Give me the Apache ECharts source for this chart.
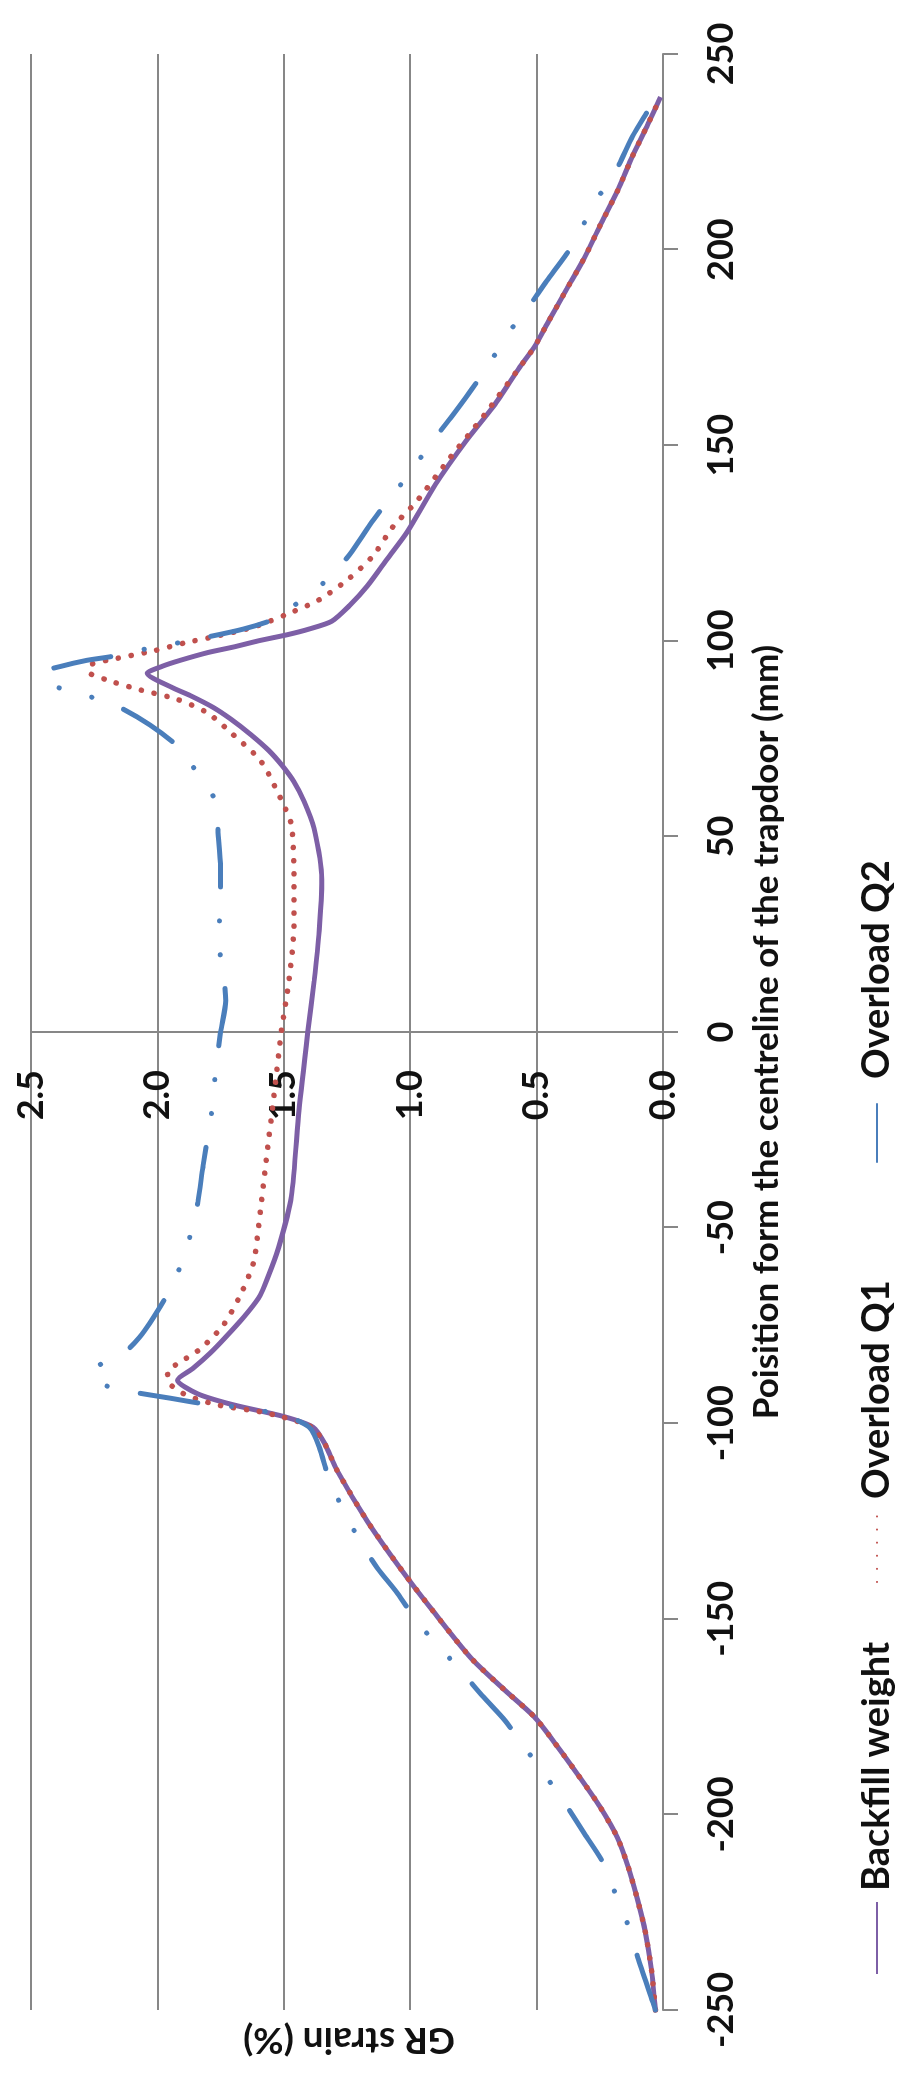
<!DOCTYPE html>
<html>
<head>
<meta charset="utf-8">
<script src="https://cdn.jsdelivr.net/npm/echarts@6/dist/echarts.min.js"></script>
<style>
html,body{margin:0;padding:0;background:#fff;overflow:hidden;width:920px;height:2080px;}
#chart{position:absolute;left:0;top:0;width:2080px;height:920px;transform-origin:0 0;transform:translate(0,2080px) rotate(-90deg);}
</style>
</head>
<body>
<div id="chart"></div>
<script>
// Position (mm) from the centreline of the trapdoor, and GR strain (%)
const backfillPos = [-250,-240,-230,-222,-214,-206,-198,-190,-182,-175,-168,-160,-148,-137,-125,-112,-105,-101,-98.3,-95.3,-92.5,-89,-86,-82,-78,-73,-68,-63,-55,-42,-20,0,13,26,39,52,59,64,68,72,76,80,83,86,88,91.7,93.5,95,97,98.4,100,101.5,103,105,109,114,121,128,140,151,160,170,175,182,190,198,206,215,224,232,239];
const backfillStrain = [0.03,0.045,0.07,0.10,0.135,0.18,0.25,0.335,0.425,0.51,0.63,0.76,0.91,1.04,1.17,1.29,1.34,1.385,1.50,1.70,1.84,1.92,1.86,1.79,1.73,1.66,1.60,1.565,1.52,1.47,1.44,1.405,1.38,1.36,1.35,1.38,1.42,1.46,1.505,1.56,1.63,1.71,1.78,1.87,1.94,2.04,1.98,1.91,1.80,1.70,1.60,1.49,1.40,1.31,1.24,1.17,1.09,1.01,0.90,0.78,0.67,0.566,0.51,0.45,0.38,0.31,0.25,0.18,0.12,0.06,0.01];

const q1Pos = [-250,-240,-230,-222,-214,-206,-198,-190,-182,-175,-168,-160,-148,-137,-125,-112,-105,-101,-98.5,-97,-95.5,-93,-90,-87,-84,-81,-75,-67,-59,-50,-33,-17,0,13,27,40,53,58,62,66,70,76,81.5,85,87.5,90,92,94,95.5,97.5,99.5,101,103.5,107,110.5,115.5,121.5,129,136,147,155,160,170,175,182,190,198,206,215,224,232,239];
const q1Strain = [0.03,0.045,0.07,0.10,0.135,0.18,0.25,0.335,0.425,0.51,0.63,0.76,0.91,1.04,1.17,1.29,1.34,1.39,1.50,1.60,1.75,1.88,1.95,1.96,1.90,1.83,1.74,1.67,1.62,1.60,1.57,1.54,1.51,1.48,1.46,1.46,1.47,1.50,1.53,1.56,1.60,1.70,1.80,1.92,2.07,2.20,2.27,2.26,2.16,2.01,1.89,1.78,1.62,1.48,1.36,1.25,1.15,1.07,0.97,0.84,0.74,0.68,0.566,0.51,0.45,0.38,0.31,0.25,0.18,0.12,0.06,0.01];

const q2Pos = [-250,-248,-236.5,-228,-220,-212,-205,-198,-191,-183.5,-176,-170,-164,-157.5,-151,-143.5,-137,-130,-122.7,-114.5,-106,-101,-98,-96,-95,-93.6,-92,-90.5,-88,-85.6,-81.3,-78,-74.4,-67,-60,-52,-43.5,-34.5,-18,-9.7,0,8,16,23.5,33,42,51,59,66,73,78.5,83,86,88,90.5,92,93.5,95,96,98,99.7,103,106,110,115.5,122,129.6,136.5,143,149.5,157,164,171,178,184.6,192,199,207,214,221,229,236.5,240];
const q2Strain = [0.03,0.04,0.10,0.14,0.19,0.24,0.31,0.38,0.455,0.54,0.625,0.71,0.79,0.88,0.97,1.05,1.13,1.20,1.26,1.32,1.36,1.40,1.50,1.67,1.82,1.95,2.10,2.20,2.26,2.24,2.12,2.07,2.03,1.96,1.91,1.87,1.84,1.82,1.78,1.77,1.75,1.73,1.74,1.76,1.75,1.75,1.76,1.77,1.84,1.92,2.03,2.15,2.28,2.39,2.44,2.45,2.38,2.28,2.18,2.04,1.90,1.66,1.52,1.44,1.33,1.24,1.16,1.08,1.00,0.93,0.84,0.76,0.685,0.62,0.54,0.46,0.38,0.31,0.25,0.18,0.12,0.05,0.02];

const seriesNames = ['Backfill weight','Overload Q1','Overload Q2'];
const positionTicks = [-250,-200,-150,-100,-50,0,50,100,150,200,250];
const strainTicks = ['0.0','0.5','1.0','1.5','2.0','2.5'];

const pairs = (xs, ys) => xs.map((x, i) => [x, ys[i]]);
const FONT = 'Lato, "Open Sans", sans-serif';
const GRID_COLOR = '#878787';
const GRID = {left: 70, right: 54, top: 31, bottom: 257};
const CW = 2080, CH = 920;
const plotW = CW - GRID.left - GRID.right;
const legendLefts = [100, 492, 912];

const legendBase = (name, left) => ({
  left: left, top: 853, orient: 'horizontal',
  itemWidth: 72, itemHeight: 16,
  itemStyle: {opacity: 0},
  textStyle: {fontFamily: FONT, fontSize: 38, fontWeight: 'bold', color: '#111', padding: [0,0,0,6]},
  data: [name]
});

const chart = echarts.init(document.getElementById('chart'), null, {renderer: 'canvas'});
chart.setOption({
  animation: false,
  backgroundColor: '#ffffff',
  textStyle: {fontFamily: FONT, color: '#111'},
  grid: Object.assign({containLabel: false}, GRID),
  legend: seriesNames.map((n, i) => legendBase(n, legendLefts[i])),
  xAxis: {
    type: 'value', min: -250, max: 250, interval: 50,
    name: 'Poisition form the centreline of the trapdoor (mm)',
    nameLocation: 'middle', nameGap: 86,
    nameTextStyle: {fontFamily: FONT, fontSize: 35, fontWeight: 'bold', color: '#111'},
    axisLine: {show: true, onZero: false, lineStyle: {color: GRID_COLOR, width: 2}},
    axisTick: {show: true, inside: false, length: 15, lineStyle: {color: GRID_COLOR, width: 2}},
    axisLabel: {fontFamily: FONT, fontSize: 36, fontWeight: 'bold', color: '#111', margin: 40,
      formatter: v => positionTicks.includes(v) ? String(v) : ''},
    splitLine: {show: false}
  },
  yAxis: {
    type: 'value', min: 0, max: 2.5, interval: 0.5,
    position: 'left', offset: -plotW / 2,
    axisLine: {show: true, onZero: false, lineStyle: {color: GRID_COLOR, width: 2}},
    axisTick: {show: false},
    axisLabel: {fontFamily: FONT, fontSize: 36, fontWeight: 'bold', color: '#111', margin: 38,
      formatter: v => strainTicks[Math.round(v / 0.5)]},
    splitLine: {show: true, lineStyle: {color: GRID_COLOR, width: 2}}
  },
  graphic: [{
    type: 'text',
    rotation: Math.PI / 2,
    x: 40, y: 349,
    style: {text: 'GR strain (%)', fontFamily: FONT, fontSize: 37, fontWeight: 'bold', fill: '#111',
      align: 'center', verticalAlign: 'middle'}
  }],
  series: [
    {
      name: seriesNames[0], type: 'line', data: pairs(backfillPos, backfillStrain),
      showSymbol: false, symbol: 'none', smooth: 0.25, z: 3,
      lineStyle: {color: '#7d5fa6', width: 5},
      itemStyle: {color: '#7d5fa6'}
    },
    {
      name: seriesNames[1], type: 'line', data: pairs(q1Pos, q1Strain),
      showSymbol: false, symbol: 'none', smooth: 0.25, z: 4,
      lineStyle: {color: '#c0504d', width: 5.5, type: [0.1, 13], cap: 'round'},
      itemStyle: {color: '#c0504d'}
    },
    {
      name: seriesNames[2], type: 'line', data: pairs(q2Pos, q2Strain),
      showSymbol: false, symbol: 'none', smooth: 0.25, z: 5,
      lineStyle: {color: '#4a7ebb', width: 5, type: [58, 34, 0.1, 34, 0.1, 34], cap: 'round'},
      itemStyle: {color: '#4a7ebb'}
    }
  ]
});
</script>
</body>
</html>
